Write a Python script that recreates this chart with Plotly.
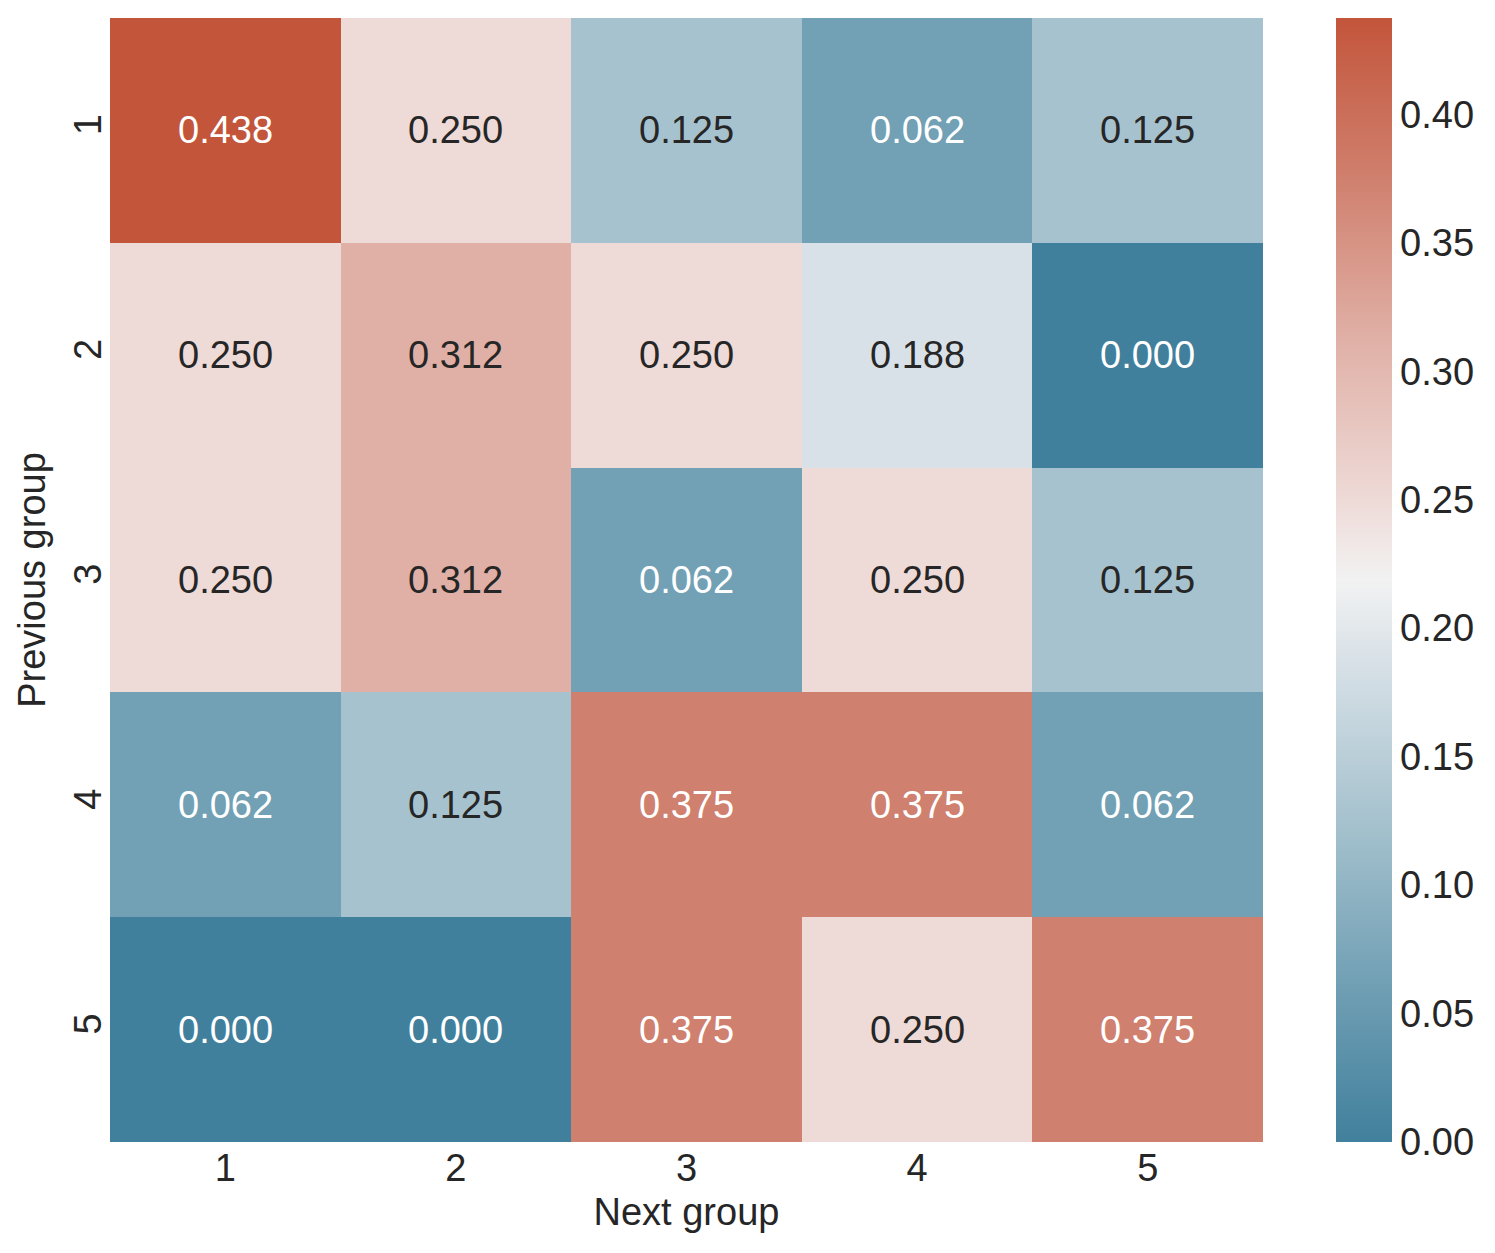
import plotly.graph_objects as go

next_groups = ["1", "2", "3", "4", "5"]
prev_groups = ["1", "2", "3", "4", "5"]
values = [
    [0.4375, 0.25, 0.125, 0.0625, 0.125],
    [0.25, 0.3125, 0.25, 0.1875, 0.0],
    [0.25, 0.3125, 0.0625, 0.25, 0.125],
    [0.0625, 0.125, 0.375, 0.375, 0.0625],
    [0.0, 0.0, 0.375, 0.25, 0.375],
]
cbar_ticks = [0.0, 0.05, 0.10, 0.15, 0.20, 0.25, 0.30, 0.35, 0.40]

vmax = max(max(r) for r in values)
vmin = 0.0

colorscale = [
    [0.0, "rgb(65,128,156)"],
    [0.1429, "rgb(114,160,181)"],
    [0.2857, "rgb(166,194,206)"],
    [0.4286, "rgb(216,225,231)"],
    [0.5, "rgb(242,242,242)"],
    [0.5714, "rgb(238,218,215)"],
    [0.7143, "rgb(224,176,166)"],
    [0.8571, "rgb(208,128,110)"],
    [1.0, "rgb(195,85,59)"],
]

font_family = "Liberation Sans, Arial, sans-serif"
fs = 38

fig = go.Figure(go.Heatmap(
    z=values, x=next_groups, y=prev_groups,
    zmin=vmin, zmax=vmax, colorscale=colorscale,
    xgap=0, ygap=0, hoverongaps=False,
    colorbar=dict(
        thickness=56, len=1, lenmode="fraction", y=0.5, yanchor="middle",
        x=1.0633, xanchor="left", xpad=0, ypad=0, outlinewidth=0,
        tickvals=cbar_ticks, ticktext=[f"{t:.2f}" for t in cbar_ticks],
        ticks="", ticklen=0,
        tickfont=dict(family=font_family, size=fs, color="#262626"),
    ),
))

annotations = []
for i, row in enumerate(values):
    for j, v in enumerate(row):
        t = (v - vmin) / (vmax - vmin)
        dark = t < 0.2 or t > 0.8
        annotations.append(dict(
            x=j, y=i, text=f"{v:.3f}",
            showarrow=False, xref="x", yref="y",
            font=dict(family=font_family, size=fs, color="white" if dark else "#262626"),
        ))

fig.update_layout(
    width=1495, height=1253,
    margin=dict(l=102, r=240, t=10, b=119),
    paper_bgcolor="white", plot_bgcolor="white",
    annotations=annotations,
    font=dict(family=font_family, size=fs, color="#262626"),
    xaxis=dict(
        type="category", range=[-0.5, 4.5],
        title=dict(text="Next group", font=dict(size=fs), standoff=10),
        showgrid=False, zeroline=False, ticks="", showline=False,
        tickfont=dict(size=fs),
    ),
    yaxis=dict(
        type="category", range=[4.5, -0.5],
        title=dict(text="Previous group", font=dict(size=fs), standoff=10),
        showgrid=False, zeroline=False, ticks="", showline=False,
        tickangle=-90, tickfont=dict(size=fs),
    ),
)

fig.write_html("out.html")
